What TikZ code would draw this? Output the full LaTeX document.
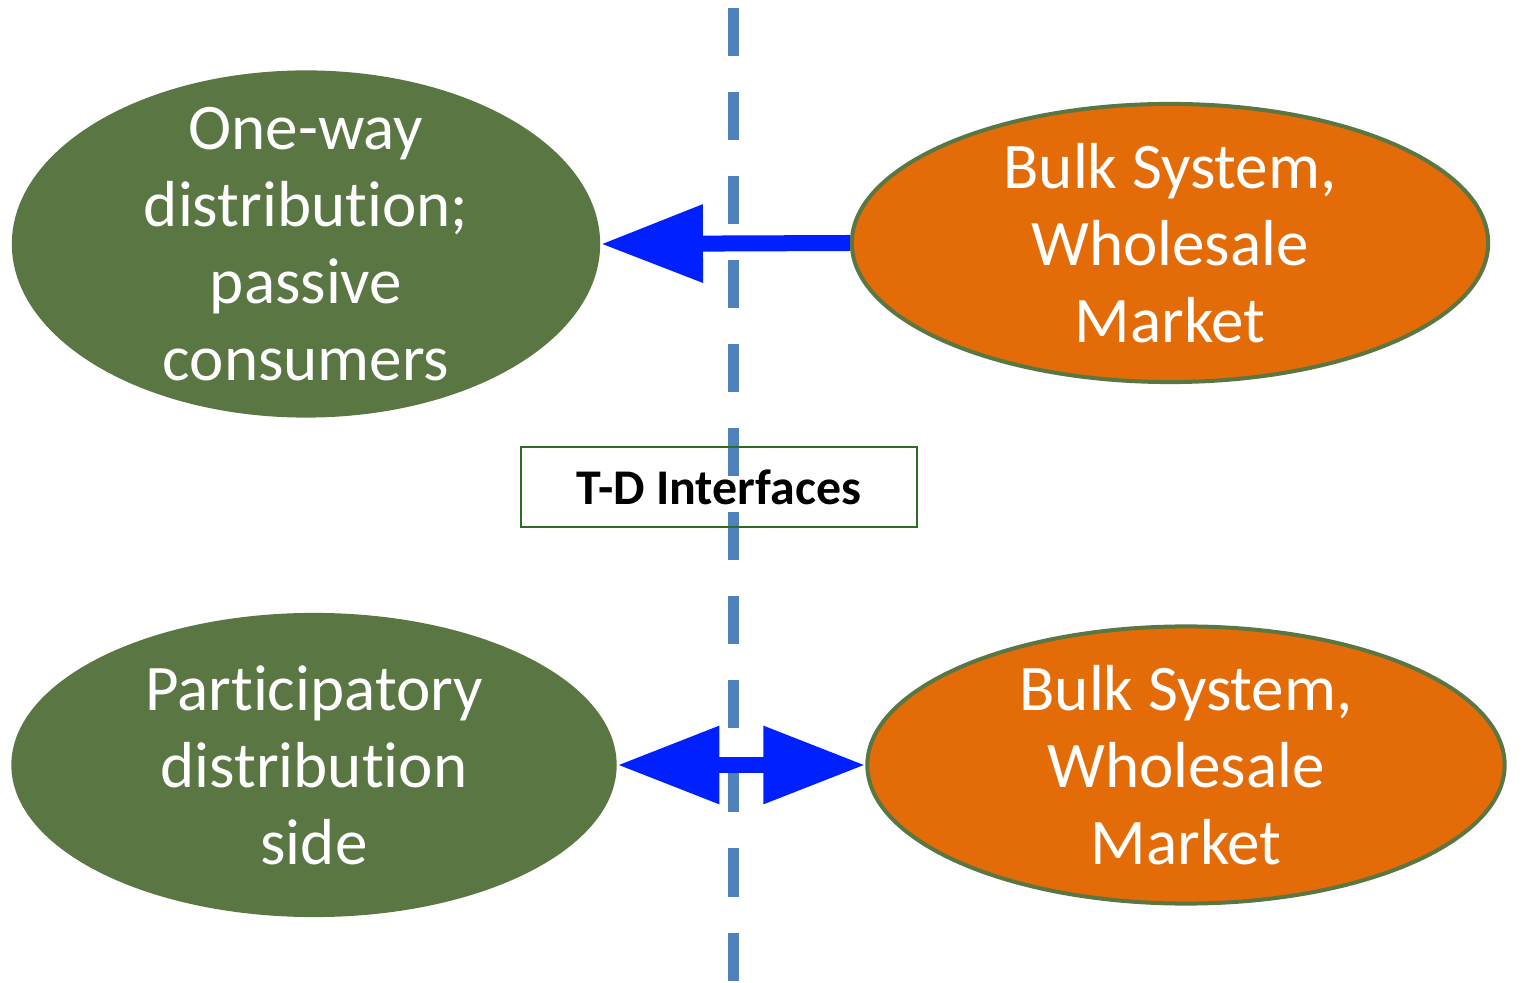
\documentclass[tikz,border=0pt]{standalone}
\usepackage{fontspec}
\setmainfont{Carlito}[Ligatures=NoCommon]
\usetikzlibrary{shapes.geometric,arrows.meta}
\definecolor{olivegrn}{HTML}{5A7642}
\definecolor{bulkorange}{HTML}{E36C09}
\definecolor{flowblue}{HTML}{0020FF}
\definecolor{ifaceblue}{HTML}{4F81BD}
\definecolor{boxgrn}{HTML}{2E6B24}
\begin{document}
\begin{tikzpicture}[x=0.01cm,y=-0.01cm,
  distside/.style={ellipse,fill=olivegrn,inner sep=0pt},
  bulkside/.style={distside,fill=bulkorange,draw=olivegrn,line width=0.4mm},
  sidetext/.style={text=white,align=center,font=\fontsize{18.5}{21.9}\selectfont},
  flow/.style={draw=flowblue,line width=1.6mm},
  bighead/.tip={Triangle[length=10.2mm,width=7.4mm]}]
\useasboundingbox (0,0) rectangle (1522,983);
% interface line, behind everything
\draw[ifaceblue,line width=1.1mm,dash pattern=on 4.8mm off 3.6mm] (733,8) -- (733,983);
\node[distside,minimum width=5.88cm,minimum height=3.47cm,
  label={[sidetext]center:One-way\\distribution;\\passive\\consumers}](oneway) at (306,244) {};
\node[bulkside,minimum width=6.36cm,minimum height=2.78cm,
  label={[sidetext]center:Bulk System,\\Wholesale\\Market}](bulktop) at (1170,243) {};
\node[distside,minimum width=6.05cm,minimum height=3.04cm,
  label={[sidetext]center:Participatory\\distribution\\side}](particip) at (314,765) {};
\node[bulkside,minimum width=6.37cm,minimum height=2.77cm,
  label={[sidetext]center:Bulk System,\\Wholesale\\Market}](bulkbottom) at (1186,765) {};
\node[draw=boxgrn,line width=0.2mm,minimum width=3.96cm,minimum height=0.8cm,
  font=\fontsize{14.2}{17}\selectfont\bfseries](tdbox) at (719,487) {T-D Interfaces};
\draw[flow,-bighead] (bulktop.west) -- (oneway.east);
\draw[flow,bighead-bighead] (particip.east) -- (bulkbottom.west);
\end{tikzpicture}
\end{document}
